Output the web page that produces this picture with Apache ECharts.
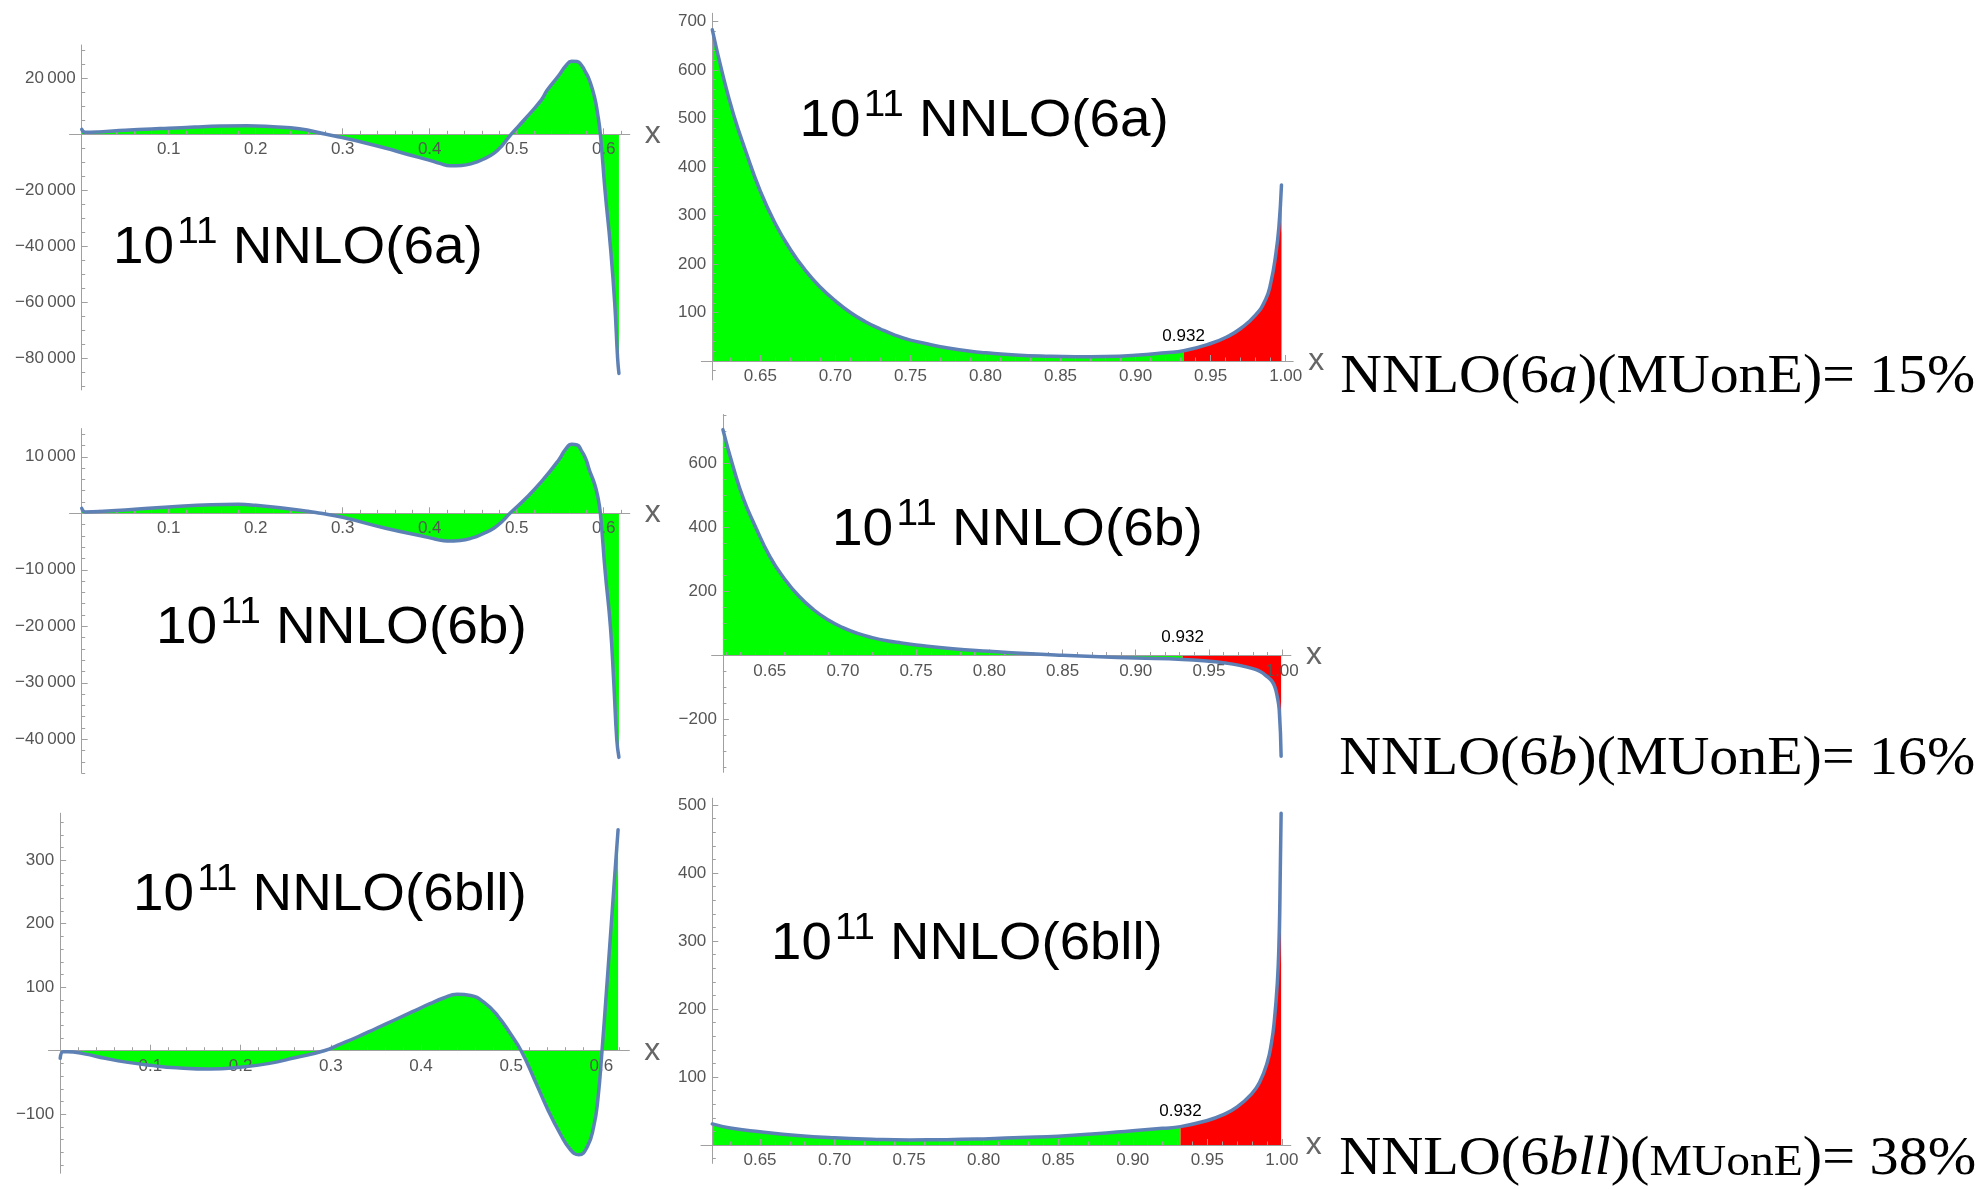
<!DOCTYPE html>
<html><head><meta charset="utf-8">
<script src="https://cdn.jsdelivr.net/npm/echarts@6/dist/echarts.min.js"></script>
<style>html,body{margin:0;padding:0;background:#fff}#c{width:1979px;height:1189px}</style>
</head><body><div id="c"></div>
<script>
// ================= DATA =================
const cut = 0.932;

// NNLO(6a), x in [0, 0.618]
const x6aL = [0, 0.004, 0.02, 0.05, 0.08, 0.1, 0.13, 0.16, 0.19, 0.22, 0.25, 0.281, 0.3, 0.325, 0.35, 0.375, 0.3992, 0.4115, 0.4239, 0.4365, 0.449, 0.4615, 0.4737, 0.4835, 0.4935, 0.5085, 0.5284, 0.5351, 0.5483, 0.5565, 0.5632, 0.5695, 0.5743, 0.5795, 0.5835, 0.5893, 0.5932, 0.5962, 0.6015, 0.6077, 0.6126, 0.616, 0.6175];
const y6aL = [1800, 700, 850, 1420, 1900, 2150, 2600, 2950, 3080, 2700, 2000, 0, -1200, -3000, -5000, -7200, -9200, -10400, -11200, -11100, -10400, -8900, -6800, -3900, 0, 5100, 12300, 15800, 21000, 24500, 26100, 26000, 24700, 22000, 19400, 13500, 7000, 0, -20000, -40000, -60000, -80000, -85400];
// NNLO(6a), x in [0.618, 1]
const x6aR = [0.618, 0.625, 0.632, 0.64, 0.65, 0.66, 0.67, 0.68, 0.69, 0.70, 0.71, 0.72, 0.73, 0.74, 0.75, 0.76, 0.775, 0.79, 0.80, 0.82, 0.84, 0.86, 0.88, 0.90, 0.92, 0.932, 0.95, 0.961, 0.97, 0.98, 0.9865, 0.99, 0.9935, 0.9955, 0.9972];
const y6aR = [683, 590, 510, 435, 350, 283, 230, 187, 152, 124, 100, 81, 66, 53, 43, 36, 27, 20, 17, 12.5, 10, 9, 9.5, 12, 17, 21, 36, 50, 67, 95, 126, 160, 222, 277, 363];

// NNLO(6b), x in [0, 0.618]
const x6bL = [0, 0.004, 0.02, 0.05, 0.1, 0.149, 0.18, 0.1993, 0.249, 0.2748, 0.3, 0.3494, 0.3992, 0.41, 0.42, 0.435, 0.449, 0.4615, 0.4737, 0.4835, 0.4922, 0.5085, 0.5284, 0.5483, 0.5565, 0.5632, 0.5695, 0.5743, 0.5795, 0.5835, 0.5893, 0.5932, 0.5962, 0.6015, 0.6077, 0.6116, 0.615, 0.6175];
const y6bL = [880, 240, 300, 590, 1120, 1530, 1590, 1415, 590, 0, -710, -2650, -4300, -4700, -4890, -4800, -4360, -3600, -2650, -1400, 0, 2360, 5600, 9430, 11400, 12200, 12100, 11100, 9600, 7660, 5300, 2950, 0, -10000, -20000, -30000, -40000, -43200];
// NNLO(6b), x in [0.618, 1]
const x6bR = [0.618, 0.625, 0.632, 0.64, 0.65, 0.66, 0.67, 0.68, 0.69, 0.70, 0.71, 0.72, 0.73, 0.74, 0.75, 0.775, 0.8, 0.825, 0.85, 0.875, 0.9, 0.932, 0.95, 0.96, 0.97, 0.98, 0.985, 0.99, 0.993, 0.995, 0.9965, 0.998, 0.9993];
const y6bR = [706, 590, 490, 405, 310, 240, 185, 143, 111, 87, 69, 56, 46, 39, 33, 21, 13, 6, 0.5, -4, -8, -12.5, -18, -23, -30, -41, -50, -67, -80, -98, -125, -170, -315];

// NNLO(6bll), x in [0, 0.618]
const x6bllL = [0, 0.0033, 0.008, 0.0267, 0.05, 0.0733, 0.1, 0.1293, 0.1666, 0.1998, 0.232, 0.26, 0.2926, 0.31, 0.33, 0.35, 0.37, 0.39, 0.41, 0.425, 0.44, 0.455, 0.47, 0.485, 0.4999, 0.511, 0.526, 0.54, 0.554, 0.5657, 0.575, 0.5844, 0.5914, 0.596, 0.6007, 0.6054, 0.61, 0.6147, 0.6185];
const y6bllL = [-12, -1.6, -1.6, -5, -12, -18, -23, -27, -29, -26, -20, -11, 0, 10, 22, 35, 48, 61, 74, 83, 89, 87, 76, 55, 25, 0, -46, -91, -130, -156, -164, -151, -120, -78, 0, 90, 180, 274, 348];
// NNLO(6bll), x in [0.618, 1]
const x6bllR = [0.618, 0.63, 0.65, 0.675, 0.7, 0.725, 0.75, 0.775, 0.8, 0.825, 0.85, 0.875, 0.9, 0.92, 0.932, 0.95, 0.96, 0.97, 0.98, 0.985, 0.99, 0.993, 0.995, 0.997, 0.998, 0.9987, 0.9995];
const y6bllR = [31, 25, 19.5, 14, 10.5, 8.5, 7.5, 7.8, 9, 11, 13, 16.5, 21, 24.5, 27, 36, 44, 56, 76, 92, 120, 150, 184, 240, 292, 365, 488];

// tick values
const xTicksL = [0.1, 0.2, 0.3, 0.4, 0.5, 0.6];
const xTicksR = [0.65, 0.70, 0.75, 0.80, 0.85, 0.90, 0.95, 1.00];
const yTicks6aL = [20000, -20000, -40000, -60000, -80000];
const yTicks6aR = [100, 200, 300, 400, 500, 600, 700];
const yTicks6bL = [10000, -10000, -20000, -30000, -40000];
const yTicks6bR = [600, 400, 200, -200];
const yTicks6bllL = [300, 200, 100, -100];
const yTicks6bllR = [100, 200, 300, 400, 500];

// text
const titleNames = ['NNLO(6a)', 'NNLO(6a)', 'NNLO(6b)', 'NNLO(6b)', 'NNLO(6bll)', 'NNLO(6bll)'];
const resultLabels = [
  [['NNLO(6', 'r'], ['a', 'i'], [')(MUonE)= 15%', 'r']],
  [['NNLO(6', 'r'], ['b', 'i'], [')(MUonE)= 16%', 'r']],
  [['NNLO(6', 'r'], ['bll', 'i'], [')(', 'r'], ['MUonE', 's'], [')= 38%', 'r']]
];

// ================= LAYOUT / STYLE =================
const BLUE = '#5E81B5', GREEN = '#00FF00', RED = '#FF0000';
const AX = '#a0a0a0', TX = '#555555';
const SANS = '"Liberation Sans", Arial, sans-serif';
const SERIF = '"Liberation Serif", "Times New Roman", serif';

function range(a, b, step, excl) {
  const out = []; const n = Math.round((b - a) / step);
  for (let k = 0; k <= n; k++) {
    const v = +(a + k * step).toFixed(6);
    if (!excl.some(e => Math.abs(e - v) < 1e-9) && Math.abs(v) > 1e-12) out.push(v);
  }
  return out;
}
const fmtBig = v => (v < 0 ? '\u2212' : '') + String(Math.abs(v)).replace(/\B(?=(\d{3})+(?!\d))/g, '\u2009');
const fmt1 = v => v.toFixed(1);
const fmt2 = v => v.toFixed(2);

const panels = [
  { xs: x6aL, ys: y6aL, split: false, x0: 0, x0px: 81.7, xScale: 870, xmin: -0.014, xmax: 0.63,
    y0px: 134.3, yScale: 56 / 20000, ymin: -91300, ymax: 31900,
    xMaj: xTicksL, xMin: range(0.02, 0.62, 0.02, xTicksL), xFmt: fmt1,
    yMaj: yTicks6aL, yMin: range(-90000, 30000, 5000, yTicks6aL), yFmt: fmtBig },
  { xs: x6aR, ys: y6aR, split: true, x0: 0.618, x0px: 712.3, xScale: 1501, xmin: 0.6107, xmax: 1.005,
    y0px: 361, yScale: 0.485, ymin: -39, ymax: 717,
    xMaj: xTicksR, xMin: range(0.62, 1.0, 0.01, xTicksR), xFmt: fmt2,
    yMaj: yTicks6aR, yMin: range(-20, 700, 20, yTicks6aR), yFmt: fmtBig, cutY: 336 },
  { xs: x6bL, ys: y6bL, split: false, x0: 0, x0px: 81.7, xScale: 870, xmin: -0.014, xmax: 0.63,
    y0px: 513.3, yScale: 56.5 / 10000, ymin: -46000, ymax: 15000,
    xMaj: xTicksL, xMin: range(0.02, 0.62, 0.02, xTicksL), xFmt: fmt1,
    yMaj: yTicks6bL, yMin: range(-46000, 14000, 2000, yTicks6bL), yFmt: fmtBig },
  { xs: x6bR, ys: y6bR, split: true, x0: 0.618, x0px: 722.9, xScale: 1464, xmin: 0.6103, xmax: 1.006,
    y0px: 655.5, yScale: 0.32, ymin: -365, ymax: 753,
    xMaj: xTicksR, xMin: range(0.62, 1.0, 0.01, xTicksR), xFmt: fmt2,
    yMaj: yTicks6bR, yMin: range(-350, 750, 50, yTicks6bR), yFmt: fmtBig, cutY: 637.5 },
  { xs: x6bllL, ys: y6bllL, split: false, x0: 0, x0px: 60.2, xScale: 902, xmin: -0.013, xmax: 0.631,
    y0px: 1050.7, yScale: 0.635, ymin: -193, ymax: 374,
    xMaj: xTicksL, xMin: range(0.02, 0.62, 0.02, xTicksL), xFmt: fmt1,
    yMaj: yTicks6bllL, yMin: range(-180, 360, 20, yTicks6bllL), yFmt: fmtBig },
  { xs: x6bllR, ys: y6bllR, split: true, x0: 0.618, x0px: 712.3, xScale: 1491, xmin: 0.6104, xmax: 1.006,
    y0px: 1145, yScale: 0.68, ymin: -27, ymax: 510,
    xMaj: xTicksR, xMin: range(0.62, 1.0, 0.01, xTicksR), xFmt: fmt2,
    yMaj: yTicks6bllR, yMin: range(-20, 500, 20, yTicks6bllR), yFmt: fmtBig, cutY: 1111 }
];

const titlePos = [
  { left: 119, right: 480, base: 266.7 },
  { left: 805.5, right: 1166, base: 140 },
  { left: 162, right: 524, base: 646.7 },
  { left: 838, right: 1200, base: 548.3 },
  { left: 139, right: 524, base: 913.3 },
  { left: 777, right: 1160, base: 962.7 }
];
const resultPos = [
  { left: 1341, right: 1975, base: 396 },
  { left: 1340, right: 1975, base: 778 },
  { left: 1340, right: 1976, base: 1178 }
];

// ================= BUILD =================
const grids = [], xAxis = [], yAxis = [], series = [];
const zip = (xs, ys) => xs.map((x, k) => [x, ys[k]]);

panels.forEach((p, i) => {
  const gx = p.x0px - (p.x0 - p.xmin) * p.xScale;
  const gw = (p.xmax - p.xmin) * p.xScale;
  const gy = p.y0px - p.ymax * p.yScale;
  const gh = (p.ymax - p.ymin) * p.yScale;
  grids.push({ left: gx, top: gy, width: gw, height: gh, containLabel: false });
  const xOff = p.ymin * p.yScale;              // move x axis from bottom up to y=0
  const yOff = -(p.x0 - p.xmin) * p.xScale;    // move y axis from left to x=x0
  const line = { color: AX, width: 1 };
  const lbl = { color: TX, fontSize: 17, fontFamily: SANS };
  xAxis.push({
    gridIndex: i, type: 'value', min: p.xmin, max: p.xmax, position: 'bottom', offset: xOff, z: 3,
    axisLine: { show: true, onZero: false, lineStyle: line },
    axisTick: { show: true, inside: true, length: 6, customValues: p.xMaj, lineStyle: line },
    axisLabel: Object.assign({ show: true, customValues: p.xMaj, formatter: p.xFmt, margin: 7 }, lbl),
    splitLine: { show: false },
    name: 'x', nameLocation: 'end', nameGap: 15,
    nameTextStyle: { color: '#666', fontSize: 32, fontFamily: SANS, verticalAlign: 'middle' }
  });
  xAxis.push({
    gridIndex: i, type: 'value', min: p.xmin, max: p.xmax, position: 'bottom', offset: xOff, z: 3,
    axisLine: { show: false, onZero: false },
    axisTick: { show: true, inside: true, length: 3.5, customValues: p.xMin, lineStyle: line },
    axisLabel: { show: false }, splitLine: { show: false }
  });
  yAxis.push({
    gridIndex: i, type: 'value', min: p.ymin, max: p.ymax, position: 'left', offset: yOff, z: 3,
    axisLine: { show: true, onZero: false, lineStyle: line },
    axisTick: { show: true, inside: true, length: 6, customValues: p.yMaj, lineStyle: line },
    axisLabel: Object.assign({ show: true, customValues: p.yMaj, formatter: p.yFmt, margin: 6 }, lbl),
    splitLine: { show: false }
  });
  yAxis.push({
    gridIndex: i, type: 'value', min: p.ymin, max: p.ymax, position: 'left', offset: yOff, z: 3,
    axisLine: { show: false, onZero: false },
    axisTick: { show: true, inside: true, length: 3.5, customValues: p.yMin, lineStyle: line },
    axisLabel: { show: false }, splitLine: { show: false }
  });
  const pts = zip(p.xs, p.ys);
  const base = { type: 'line', xAxisIndex: 2 * i, yAxisIndex: 2 * i, symbol: 'none', smooth: 0.5, silent: true };
  if (p.split) {
    series.push(Object.assign({}, base, { data: pts.filter(d => d[0] <= cut + 1e-9), z: 1,
      lineStyle: { width: 0, opacity: 0 }, areaStyle: { color: GREEN, opacity: 1 } }));
    series.push(Object.assign({}, base, { data: pts.filter(d => d[0] >= cut - 1e-9), z: 1,
      lineStyle: { width: 0, opacity: 0 }, areaStyle: { color: RED, opacity: 1 } }));
  } else {
    series.push(Object.assign({}, base, { data: pts, z: 1,
      lineStyle: { width: 0, opacity: 0 }, areaStyle: { color: GREEN, opacity: 1 } }));
  }
  series.push(Object.assign({}, base, { data: pts, z: 5, lineStyle: { color: BLUE, width: 3.5, cap: 'round', join: 'round' } }));
});

// text measuring
const mctx = document.createElement('canvas').getContext('2d');
function tw(text, font) { mctx.font = font; return mctx.measureText(text).width; }

const graphics = [];
titleNames.forEach((name, i) => {
  const t = titlePos[i];
  const fsM = 51, fsS = 36, raise = 21, gap = 3;
  const fM = fsM + 'px ' + SANS, fS = fsS + 'px ' + SANS;
  const w1 = tw('10', fM), w2 = tw('11', fS), w3 = tw(' ' + name, fM);
  const lb = 0.109 * fsM, rb = 0.05 * fsM;
  const natural = w1 + gap + w2 + w3 - lb - rb;
  const sx = (t.right - t.left) / natural;
  const mid = 0.3465;
  graphics.push({ type: 'group', x: t.left - lb * sx, y: t.base, scaleX: sx, children: [
    { type: 'text', x: 0, y: -mid * fsM, style: { text: '10', font: fM, fill: '#000', align: 'left', verticalAlign: 'middle' } },
    { type: 'text', x: w1 + gap, y: -raise - mid * fsS, style: { text: '11', font: fS, fill: '#000', align: 'left', verticalAlign: 'middle' } },
    { type: 'text', x: w1 + gap + w2, y: -mid * fsM, style: { text: ' ' + name, font: fM, fill: '#000', align: 'left', verticalAlign: 'middle' } }
  ]});
});

resultLabels.forEach((pieces, i) => {
  const L = resultPos[i];
  const fs = 55, fsS = 45, mid = 0.3375;
  const fonts = { r: fs + 'px ' + SERIF, i: 'italic ' + fs + 'px ' + SERIF, s: fsS + 'px ' + SERIF };
  const sizes = { r: fs, i: fs, s: fsS };
  let x = 0; const kids = [];
  pieces.forEach(([txt, st]) => {
    kids.push({ type: 'text', x: x, y: -mid * sizes[st], style: { text: txt, font: fonts[st], fill: '#000', align: 'left', verticalAlign: 'middle' } });
    x += tw(txt, fonts[st]);
  });
  const sx = (L.right - L.left) / (x - 0.02 * fs);
  graphics.push({ type: 'group', x: L.left - 0.015 * fs * sx, y: L.base, scaleX: sx, children: kids });
});

const chart = echarts.init(document.getElementById('c'), null, { renderer: 'canvas' });
chart.setOption({ animation: false, backgroundColor: '#fff', grid: grids, xAxis: xAxis, yAxis: yAxis, series: series, graphic: graphics });

// "0.932" markers at the cut position of the right-hand panels
const cutTexts = [];
panels.forEach((p, i) => {
  if (!p.split) return;
  const px = chart.convertToPixel({ xAxisIndex: 2 * i }, cut);
  cutTexts.push({ type: 'text', x: px, y: p.cutY, z: 10,
    style: { text: String(cut), font: '17px ' + SANS, fill: '#000', align: 'center', verticalAlign: 'middle' } });
});
chart.setOption({ graphic: graphics.concat(cutTexts) });
</script></body></html>
